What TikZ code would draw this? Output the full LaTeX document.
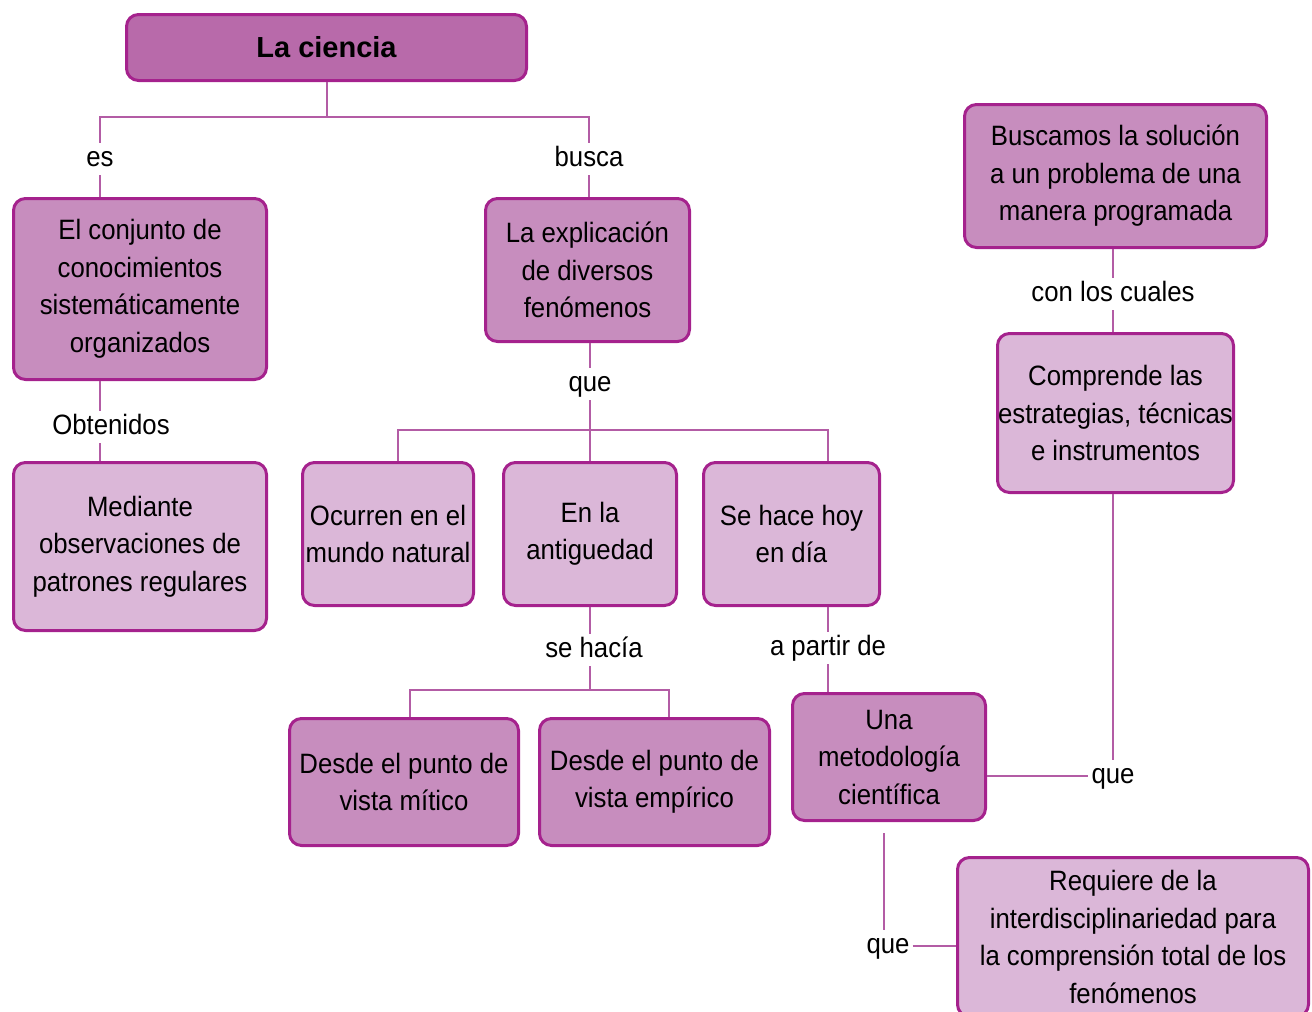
\documentclass[tikz,border=0pt]{standalone}
\usepackage{fontspec}
\setmainfont[FakeStretch=0.92]{Liberation Sans}
\newfontfamily\titlefont{Liberation Sans}
\usetikzlibrary{positioning}
\definecolor{magline}{HTML}{B35CA5}
\definecolor{magborder}{HTML}{A5228D}
\definecolor{titlebg}{HTML}{B86AAA}
\definecolor{darkbg}{HTML}{C78DBE}
\definecolor{lightbg}{HTML}{DBB7D8}

\begin{document}
\begin{tikzpicture}[x=1pt,y=-1pt,
 box/.style={draw=magborder,line width=3pt,rounded corners=12pt,align=center,inner sep=0pt,font=\fontsize{28}{37.5}\selectfont},
 darkbox/.style={box,fill=darkbg},
 lightbox/.style={box,fill=lightbg},
 lbl/.style={font=\fontsize{28}{34}\selectfont,inner sep=3pt,text height=20pt,text depth=6pt},
 conn/.style={magline,line width=2pt}]
\useasboundingbox (0,0) rectangle (1312,1012);
\clip (0,0) rectangle (1312,1012);
% boxes
\node[box,fill=titlebg,minimum width=400,minimum height=66,font=\titlefont\bfseries\fontsize{29}{34}\selectfont] (ciencia) at (326.5,47.5) {La ciencia};
\node[darkbox,minimum width=253,minimum height=181] (conjunto) at (140,289) {El conjunto de\\conocimientos\\sistemáticamente\\organizados};
\node[lightbox,minimum width=253,minimum height=168] (mediante) at (140,546.5) {Mediante\\observaciones de\\patrones regulares};
\node[darkbox,minimum width=204,minimum height=143] (explic) at (587.5,270) {La explicación\\de diversos\\fenómenos};
\node[lightbox,minimum width=171,minimum height=143] (ocurren) at (388,534) {Ocurren en el\\mundo natural};
\node[lightbox,minimum width=173,minimum height=143] (antig) at (590,534) {En la\\antiguedad};
\node[lightbox,minimum width=176,minimum height=143] (hoy) at (791.5,534) {Se hace hoy\\en día};
\node[darkbox,minimum width=229,minimum height=127] (mitico) at (404,782) {Desde el punto de\\vista mítico};
\node[darkbox,minimum width=230,minimum height=127] (empirico) at (654.5,782) {Desde el punto de\\vista empírico};
\node[darkbox,minimum width=193,minimum height=127] (metodo) at (889,757) {Una\\metodología\\científica};
\node[darkbox,minimum width=302,minimum height=143] (buscamos) at (1115.5,176) {Buscamos la solución\\a un problema de una\\manera programada};
\node[lightbox,minimum width=236,minimum height=159] (comprende) at (1115.5,413) {Comprende las\\estrategias, técnicas\\e instrumentos};
\node[lightbox,minimum width=351,minimum height=159] (requiere) at (1133,937) {Requiere de la\\interdisciplinariedad para\\la comprensión total de los\\fenómenos};
% labels
\node[lbl] (es) at (100,159) {es};
\node[lbl] (busca) at (589,159) {busca};
\node[lbl] (obtenidos) at (111,427) {Obtenidos};
\node[lbl] (que1) at (590,384) {que};
\node[lbl] (sehacia) at (594,650) {se hacía};
\node[lbl] (apartir) at (828,648) {a partir de};
\node[lbl] (cuales) at (1113,294) {con los cuales};
\node[lbl] (que2) at (1113,776) {que};
\node[lbl] (que3) at (888,946) {que};
\coordinate (top) at (326.5,117);
\coordinate (split) at (590,430);
\coordinate (split2) at (590,690);
% connectors
\draw[conn] (ciencia.south) -- (top);
\draw[conn] (es) |- (top) -| (busca);
\draw[conn] (es) -- (es |- conjunto.north);
\draw[conn] (busca) -- (busca |- explic.north);
\draw[conn] (conjunto.south -| es) -- (obtenidos.north -| es);
\draw[conn] (obtenidos.south -| es) -- (mediante.north -| es);
\draw[conn] (explic.south -| que1) -- (que1);
\draw[conn] (que1) -- (split);
\draw[conn] ([xshift=10pt]ocurren.north) |- (split) -| ([xshift=36.5pt]hoy.north);
\draw[conn] (split) -- (antig.north -| split);
\draw[conn] (antig.south -| split) -- (sehacia.north -| split);
\draw[conn] (sehacia.south -| split) -- (split2);
\draw[conn] ([xshift=6pt]mitico.north) |- (split2) -| ([xshift=14.5pt]empirico.north);
\draw[conn] (hoy.south -| apartir) -- (apartir);
\draw[conn] (apartir) -- (apartir |- metodo.north);
\draw[conn] (buscamos.south -| cuales) -- (cuales);
\draw[conn] (cuales) -- (cuales |- comprende.north);
\draw[conn] (comprende.south -| que2) -- (que2);
\draw[conn] (que2 -| metodo.east) -- (que2);
\draw[conn] ([xshift=-5pt,yshift=-11pt]metodo.south) -- ([xshift=-4pt]que3.north);
\draw[conn] (que3) -- (que3 -| requiere.west);
\end{tikzpicture}
\end{document}
